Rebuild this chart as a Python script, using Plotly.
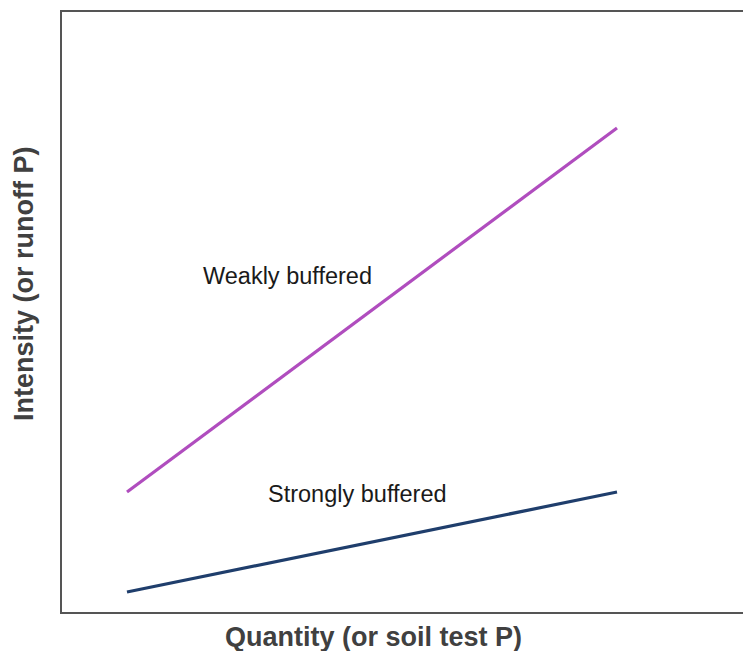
import plotly.graph_objects as go

quantity = [1, 9]
weakly_buffered = [6.0, 24.2]
strongly_buffered = [1.0, 6.0]
series_names = ["Weakly buffered", "Strongly buffered"]
label_pos = {"Weakly buffered": (3.62, 16.8), "Strongly buffered": (4.77, 5.9)}

FONT = "Liberation Sans, Arial"

fig = go.Figure()
fig.add_trace(go.Scatter(x=quantity, y=weakly_buffered, mode="lines",
                         line=dict(color="#B04DBE", width=3.2), name=series_names[0]))
fig.add_trace(go.Scatter(x=quantity, y=strongly_buffered, mode="lines",
                         line=dict(color="#1F3E6C", width=3.2), name=series_names[1]))

for name in series_names:
    x, y = label_pos[name]
    fig.add_annotation(x=x, y=y, xref="x", yref="y", text=name, showarrow=False,
                       xanchor="center", yanchor="middle",
                       font=dict(family=FONT, size=23.5, color="#1a1a1a"))

# plot area on screen: x 62..743, y 12..612
fig.add_annotation(x=(373 - 62) / 681, y=-(637 - 612) / 600, xref="paper", yref="paper",
                   text="<b>Quantity (or soil test P)</b>", showarrow=False,
                   xanchor="center", yanchor="middle",
                   font=dict(family=FONT, size=27, color="#404040"))
fig.add_annotation(x=-(62 - 24) / 681, y=(612 - 284) / 600, xref="paper", yref="paper",
                   text="<b>Intensity (or runoff P)</b>", showarrow=False, textangle=-90,
                   xanchor="center", yanchor="middle",
                   font=dict(family=FONT, size=27, color="#404040"))

fig.update_layout(
    width=743, height=651,
    margin=dict(l=62, r=0, t=12, b=39),
    paper_bgcolor="white", plot_bgcolor="white",
    showlegend=False,
    xaxis=dict(range=[-0.061, 11.057], showgrid=False, zeroline=False, showticklabels=False,
               ticks="", showline=True, mirror=True, linecolor="#555555", linewidth=2),
    yaxis=dict(range=[0, 30], showgrid=False, zeroline=False, showticklabels=False,
               ticks="", showline=True, linecolor="#555555", linewidth=2),
)

fig.write_html("out.html", config={"displayModeBar": False},
               post_script="document.body.style.margin='0';document.body.style.overflow='hidden';")
